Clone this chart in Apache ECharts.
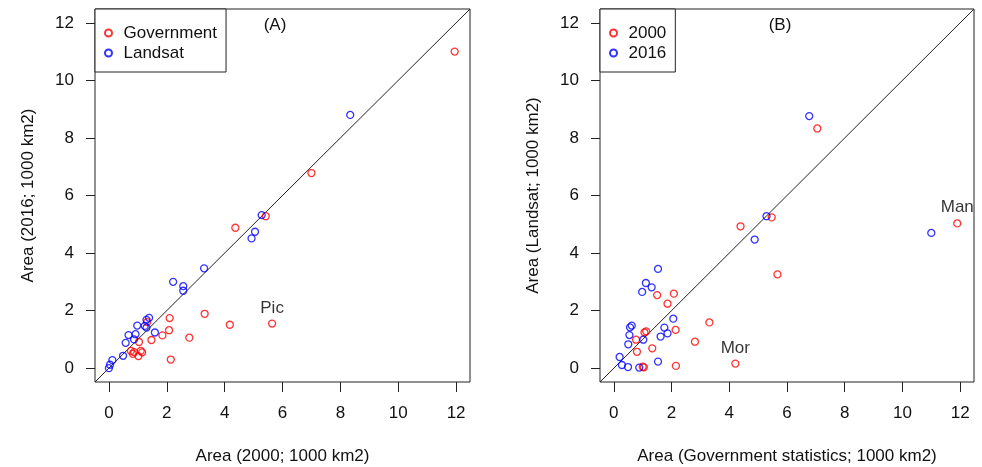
<!DOCTYPE html>
<html><head><meta charset="utf-8">
<script src="https://cdn.jsdelivr.net/npm/echarts@6/dist/echarts.min.js"></script>
<style>html,body{margin:0;padding:0;background:#fff}#c{width:982px;height:467px}</style>
</head><body><div id="c"></div>
<script>
const ticks = [0, 2, 4, 6, 8, 10, 12];
const axisMin = -0.48, axisMax = 12.48;
// Panel A: x = Area 2000, y = Area 2016
const govX  = [11.95,7.0,5.42,4.37,3.31,4.18,5.64,2.10,2.08,1.85,2.78,2.14,1.47,1.32,1.04,0.76,0.87,1.10,1.02,1.15,0.83];
const govY  = [11.0,6.78,5.28,4.88,1.89,1.51,1.55,1.74,1.32,1.14,1.06,0.30,0.98,1.60,0.91,0.60,0.56,0.60,0.42,0.55,0.50];
const landX = [8.34,5.28,5.05,4.93,3.29,2.22,2.57,2.57,1.59,1.39,1.30,1.24,1.30,0.98,0.68,0.92,0.58,0.87,0.49,0.12,0.04,0.0];
const landY = [8.80,5.32,4.74,4.51,3.47,3.00,2.85,2.69,1.24,1.75,1.68,1.47,1.41,1.48,1.15,1.18,0.88,1.00,0.43,0.28,0.12,0.0];
// Panel B: x = Government statistics, y = Landsat
const y2000X = [11.9,7.05,5.47,5.67,4.39,4.21,3.31,2.81,2.15,2.14,2.08,1.86,1.50,1.33,1.12,1.06,0.77,0.80,1.00,1.04];
const y2000Y = [5.03,8.33,5.24,3.26,4.93,0.16,1.59,0.92,0.08,1.33,2.59,2.24,2.54,0.69,1.28,1.24,0.99,0.57,0.05,0.03];
const y2016X = [11.0,6.77,5.29,4.88,1.53,1.11,1.31,0.98,2.06,0.62,0.56,1.75,1.86,1.62,0.54,1.02,0.50,0.20,0.28,0.49,0.88,1.53];
const y2016Y = [4.70,8.76,5.28,4.47,3.45,2.96,2.81,2.65,1.72,1.48,1.42,1.41,1.21,1.10,1.15,0.99,0.83,0.39,0.11,0.04,0.02,0.23];
// Point annotations (series index -> text)
const notesGov = {6: 'Pic'};
const notes2000 = {0: 'Man', 5: 'Mor'};

const FONT = 'Liberation Sans, Arial, sans-serif';
const RED = '#ff0000', BLUE = '#0000ff';

function pts(xs, ys, notes) {
  return xs.map((x, i) => {
    const d = {value: [x, ys[i]]};
    if (notes && notes[i]) {
      d.label = {show: true, formatter: notes[i], position: 'top', distance: 3,
                 fontSize: 17, color: '#000', fontFamily: FONT, textBorderWidth: 0};
    }
    return d;
  });
}
function sc(name, xs, ys, color, idx, notes) {
  return {
    type: 'scatter', name, xAxisIndex: idx, yAxisIndex: idx,
    symbol: 'circle', symbolSize: 7,
    itemStyle: {color: 'rgba(255,255,255,0)', borderColor: color, borderWidth: 1.3},
    emphasis: {disabled: true},
    data: pts(xs, ys, notes), z: 3
  };
}
function diag(idx) {
  return {
    type: 'line', xAxisIndex: idx, yAxisIndex: idx, silent: true,
    symbol: 'none', lineStyle: {color: '#222', width: 1},
    data: [[axisMin, axisMin], [axisMax, axisMax]], z: 2
  };
}
function xAx(idx, name) {
  return {
    type: 'value', gridIndex: idx, min: axisMin, max: axisMax,
    axisLine: {show: false, onZero: false}, splitLine: {show: false},
    axisTick: {show: true, inside: false, length: 10, customValues: ticks, lineStyle: {color: '#222', width: 1}},
    axisLabel: {customValues: ticks, margin: 23, fontSize: 17, color: '#111', fontFamily: FONT},
    name, nameLocation: 'middle', nameGap: 66,
    nameTextStyle: {fontSize: 17, color: '#111', fontFamily: FONT}
  };
}
function yAx(idx, name, gap) {
  return {
    type: 'value', gridIndex: idx, min: axisMin, max: axisMax,
    axisLine: {show: false, onZero: false}, splitLine: {show: false},
    axisTick: {show: true, inside: false, length: 9, customValues: ticks, lineStyle: {color: '#222', width: 1}},
    axisLabel: {customValues: ticks, margin: 21, fontSize: 17, color: '#111', fontFamily: FONT},
    name, nameLocation: 'middle', nameGap: gap,
    nameTextStyle: {fontSize: 17, color: '#111', fontFamily: FONT}
  };
}
function leg(names, left) {
  return {
    data: names, left, top: 9, orient: 'vertical',
    backgroundColor: '#fff', borderColor: '#222', borderWidth: 1, borderRadius: 0,
    padding: [14, 9, 9, 9], itemGap: 0, itemWidth: 16, itemHeight: 7,
    selectedMode: false,
    textStyle: {fontSize: 17, color: '#111', fontFamily: FONT, lineHeight: 20, padding: [0, 0, 0, 2]}
  };
}
function grid(left, width) {
  return {left, top: 9, width, height: 373, show: true, borderColor: '#222', borderWidth: 1,
          backgroundColor: 'transparent', containLabel: false, outerBoundsMode: 'none'};
}

const chart = echarts.init(document.getElementById('c'), null, {renderer: 'canvas'});
chart.setOption({
  animation: false,
  backgroundColor: '#fff',
  textStyle: {fontFamily: FONT},
  grid: [grid(95, 375), grid(600, 374)],
  xAxis: [xAx(0, 'Area (2000; 1000 km2)'), xAx(1, 'Area (Government statistics; 1000 km2)')],
  yAxis: [yAx(0, 'Area (2016; 1000 km2)', 58), yAx(1, 'Area (Landsat; 1000 km2)', 58)],
  legend: [leg(['Government', 'Landsat'], 95), leg(['2000', '2016'], 600)],
  graphic: [
    {type: 'text', x: 275, y: 25, style: {text: '(A)', font: '17px ' + FONT, fill: '#111', textAlign: 'center', textVerticalAlign: 'middle'}},
    {type: 'text', x: 780, y: 25, style: {text: '(B)', font: '17px ' + FONT, fill: '#111', textAlign: 'center', textVerticalAlign: 'middle'}}
  ],
  series: [
    diag(0), diag(1),
    sc('Government', govX, govY, RED, 0, notesGov),
    sc('Landsat', landX, landY, BLUE, 0),
    sc('2000', y2000X, y2000Y, RED, 1, notes2000),
    sc('2016', y2016X, y2016Y, BLUE, 1)
  ]
});
</script>
</body></html>
